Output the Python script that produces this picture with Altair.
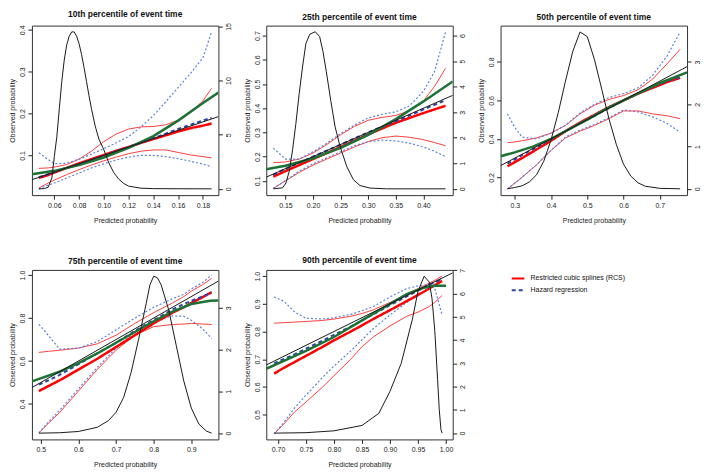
import altair as alt
import pandas as pd

FONT = "Liberation Sans"
TITLES = ["10th percentile of event time", "25th percentile of event time",
          "50th percentile of event time", "75th percentile of event time",
          "90th percentile of event time"]
METHODS = ["Restricted cubic splines (RCS)", "Hazard regression"]

# ---------------- Panel 1: 10th percentile ----------------
XDOM1 = [0.0419, 0.1925]; YDOM1 = [0.005, 0.41]; RDOM1 = [-0.58, 15.08]
XT1 = [0.06, 0.08, 0.10, 0.12, 0.14, 0.16, 0.18]; YT1 = [0.1, 0.2, 0.3, 0.4]; RT1 = [0, 5, 10, 15]
X1 = [0.0475, 0.055, 0.06, 0.07, 0.08, 0.09, 0.10, 0.11, 0.12, 0.13, 0.14, 0.15, 0.16, 0.17, 0.18, 0.187]
RCS1 = [0.046, 0.053, 0.059, 0.07, 0.081, 0.091, 0.101, 0.111, 0.12, 0.13, 0.139, 0.148, 0.157, 0.165, 0.171, 0.176]
RCS1_HI = [0.069, 0.07, 0.072, 0.078, 0.091, 0.11, 0.133, 0.151, 0.163, 0.168, 0.169, 0.173, 0.184, 0.203, 0.23, 0.26]
RCS1_LO = [0.022, 0.034, 0.041, 0.054, 0.066, 0.077, 0.087, 0.096, 0.104, 0.11, 0.113, 0.113, 0.107, 0.101, 0.097, 0.094]
HAZ1 = [0.048, 0.055, 0.06, 0.07, 0.079, 0.089, 0.099, 0.11, 0.12, 0.13, 0.141, 0.152, 0.163, 0.173, 0.183, 0.19]
HAZ1_HI = [0.106, 0.09, 0.08, 0.081, 0.091, 0.103, 0.116, 0.13, 0.145, 0.168, 0.195, 0.228, 0.262, 0.296, 0.333, 0.395]
HAZ1_LO = [0.02, 0.029, 0.034, 0.046, 0.058, 0.07, 0.08, 0.089, 0.096, 0.1, 0.1, 0.097, 0.092, 0.086, 0.079, 0.073]
GX1 = [0.0419, 0.06, 0.08, 0.10, 0.12, 0.14, 0.16, 0.18, 0.1925]
G1 = [0.055, 0.063, 0.077, 0.095, 0.118, 0.146, 0.183, 0.225, 0.25]
DX1 = [0.0475, 0.052, 0.055, 0.058, 0.06, 0.062, 0.064, 0.066, 0.068, 0.07, 0.072, 0.074, 0.076, 0.078,
       0.08, 0.082, 0.084, 0.086, 0.088, 0.09, 0.093, 0.096, 0.10, 0.104, 0.108, 0.112, 0.116, 0.12,
       0.13, 0.14, 0.16, 0.187]
D1 = [0, 0.02, 0.15, 1.0, 3.0, 4.8, 7.4, 9.9, 11.9, 13.3, 14.1, 14.5, 14.5, 14.1, 13.4, 12.4, 11.2, 9.9,
      8.6, 7.4, 5.8, 4.6, 3.6, 2.4, 1.5, 0.9, 0.5, 0.25, 0.06, 0.02, 0.01, 0.0]

# ---------------- Panel 2: 25th percentile ----------------
XDOM2 = [0.1153, 0.453]; YDOM2 = [0.041, 0.741]; RDOM2 = [-0.246, 6.39]
XT2 = [0.15, 0.20, 0.25, 0.30, 0.35, 0.40]; YT2 = [0.1, 0.2, 0.3, 0.4, 0.5, 0.6, 0.7]; RT2 = [0, 1, 2, 3, 4, 5, 6]
X2 = [0.128, 0.15, 0.175, 0.2, 0.225, 0.25, 0.275, 0.3, 0.325, 0.35, 0.375, 0.4, 0.42, 0.44]
RCS2 = [0.117, 0.14, 0.165, 0.19, 0.215, 0.24, 0.266, 0.292, 0.316, 0.34, 0.36, 0.38, 0.395, 0.41]
RCS2_HI = [0.175, 0.178, 0.19, 0.215, 0.25, 0.29, 0.325, 0.35, 0.362, 0.37, 0.39, 0.43, 0.49, 0.565]
RCS2_LO = [0.069, 0.1, 0.135, 0.165, 0.19, 0.215, 0.24, 0.262, 0.278, 0.285, 0.28, 0.27, 0.258, 0.245]
HAZ2 = [0.125, 0.15, 0.175, 0.2, 0.225, 0.25, 0.275, 0.3, 0.323, 0.347, 0.37, 0.395, 0.414, 0.433]
HAZ2_HI = [0.235, 0.19, 0.19, 0.22, 0.255, 0.295, 0.33, 0.36, 0.375, 0.385, 0.41, 0.47, 0.55, 0.715]
HAZ2_LO = [0.069, 0.1, 0.14, 0.17, 0.195, 0.22, 0.245, 0.262, 0.268, 0.265, 0.255, 0.24, 0.222, 0.2]
GX2 = [0.1153, 0.15, 0.2, 0.25, 0.3, 0.35, 0.4, 0.453]
G2 = [0.148, 0.162, 0.193, 0.236, 0.29, 0.355, 0.428, 0.51]
DX2 = [0.128, 0.145, 0.151, 0.157, 0.163, 0.169, 0.175, 0.181, 0.187, 0.194, 0.204, 0.212, 0.218, 0.224,
       0.232, 0.240, 0.249, 0.261, 0.273, 0.285, 0.303, 0.333, 0.44]
D2 = [0, 0.04, 0.23, 0.69, 1.53, 2.56, 3.73, 4.77, 5.68, 6.05, 6.15, 5.96, 5.38, 4.6, 3.47, 2.43, 1.66,
      0.88, 0.36, 0.13, 0.03, 0.0, 0.0]

# ---------------- Panel 3: 50th percentile ----------------
XDOM3 = [0.261, 0.775]; YDOM3 = [0.108, 0.988]; RDOM3 = [-0.15, 3.86]
XT3 = [0.3, 0.4, 0.5, 0.6, 0.7]; YT3 = [0.2, 0.4, 0.6, 0.8]; RT3 = [0, 1, 2, 3]
X3 = [0.28, 0.30, 0.32, 0.36, 0.4, 0.44, 0.48, 0.52, 0.56, 0.6, 0.64, 0.68, 0.72, 0.756]
RCS3 = [0.258, 0.279, 0.3, 0.345, 0.39, 0.44, 0.485, 0.525, 0.565, 0.6, 0.635, 0.665, 0.695, 0.717]
RCS3_HI = [0.38, 0.384, 0.39, 0.405, 0.43, 0.47, 0.53, 0.575, 0.605, 0.625, 0.655, 0.71, 0.79, 0.865]
RCS3_LO = [0.14, 0.17, 0.2, 0.265, 0.34, 0.405, 0.44, 0.47, 0.505, 0.545, 0.545, 0.53, 0.52, 0.505]
HAZ3 = [0.272, 0.293, 0.315, 0.357, 0.398, 0.44, 0.48, 0.52, 0.56, 0.6, 0.635, 0.67, 0.7, 0.72]
HAZ3_HI = [0.53, 0.46, 0.41, 0.4, 0.43, 0.47, 0.535, 0.58, 0.615, 0.635, 0.665, 0.73, 0.83, 0.955]
HAZ3_LO = [0.14, 0.17, 0.2, 0.265, 0.34, 0.41, 0.445, 0.475, 0.51, 0.55, 0.54, 0.515, 0.48, 0.435]
GX3 = [0.261, 0.3, 0.35, 0.4, 0.45, 0.5, 0.55, 0.6, 0.65, 0.7, 0.775]
G3 = [0.31, 0.33, 0.36, 0.4, 0.45, 0.5, 0.553, 0.6, 0.645, 0.69, 0.745]
DX3 = [0.28, 0.3, 0.32, 0.34, 0.36, 0.38, 0.40, 0.42, 0.44, 0.46, 0.48, 0.50, 0.52, 0.54, 0.56, 0.58,
       0.60, 0.62, 0.64, 0.66, 0.70, 0.756]
D3 = [0.0, 0.03, 0.07, 0.16, 0.33, 0.65, 1.15, 1.8, 2.55, 3.25, 3.71, 3.6, 3.05, 2.35, 1.65, 1.05,
      0.58, 0.3, 0.14, 0.06, 0.01, 0.0]

# ---------------- Panel 4: 75th percentile ----------------
XDOM4 = [0.4765, 0.972]; YDOM4 = [0.235, 1.024]; RDOM4 = [-0.15, 3.91]
XT4 = [0.5, 0.6, 0.7, 0.8, 0.9]; YT4 = [0.4, 0.6, 0.8, 1.0]; RT4 = [0, 1, 2, 3]
X4 = [0.495, 0.52, 0.55, 0.6, 0.65, 0.7, 0.75, 0.8, 0.85, 0.88, 0.9, 0.93, 0.954]
RCS4 = [0.46, 0.483, 0.51, 0.56, 0.61, 0.665, 0.72, 0.775, 0.825, 0.85, 0.87, 0.897, 0.92]
RCS4_HI = [0.64, 0.645, 0.65, 0.66, 0.68, 0.72, 0.775, 0.825, 0.87, 0.9, 0.925, 0.955, 0.985]
RCS4_LO = [0.265, 0.31, 0.36, 0.46, 0.56, 0.65, 0.72, 0.76, 0.77, 0.772, 0.775, 0.772, 0.77]
HAZ4 = [0.49, 0.51, 0.535, 0.585, 0.635, 0.685, 0.74, 0.79, 0.84, 0.865, 0.88, 0.9, 0.92]
HAZ4_HI = [0.77, 0.72, 0.655, 0.66, 0.69, 0.745, 0.8, 0.85, 0.89, 0.91, 0.935, 0.965, 1.0]
HAZ4_LO = [0.265, 0.315, 0.37, 0.47, 0.57, 0.66, 0.735, 0.785, 0.81, 0.808, 0.79, 0.75, 0.705]
GX4 = [0.4765, 0.55, 0.6, 0.65, 0.7, 0.75, 0.8, 0.85, 0.9, 0.95, 0.972]
G4 = [0.505, 0.55, 0.59, 0.635, 0.685, 0.735, 0.785, 0.83, 0.865, 0.88, 0.882]
DX4 = [0.495, 0.55, 0.6, 0.65, 0.68, 0.70, 0.72, 0.74, 0.76, 0.78, 0.79, 0.80, 0.81, 0.82, 0.84, 0.86,
       0.88, 0.90, 0.92, 0.94, 0.954]
D4 = [0, 0.01, 0.04, 0.14, 0.3, 0.5, 0.85, 1.45, 2.25, 3.1, 3.55, 3.76, 3.72, 3.55, 2.95, 2.1, 1.25,
      0.6, 0.22, 0.05, 0.0]

# ---------------- Panel 5: 90th percentile ----------------
XDOM5 = [0.679, 1.012]; YDOM5 = [0.41, 1.0225]; RDOM5 = [-0.27, 7.02]
XT5 = [0.70, 0.75, 0.80, 0.85, 0.90, 0.95, 1.00]; YT5 = [0.5, 0.6, 0.7, 0.8, 0.9, 1.0]; RT5 = [0, 1, 2, 3, 4, 5, 6, 7]
X5 = [0.693, 0.71, 0.73, 0.75, 0.78, 0.8, 0.83, 0.85, 0.87, 0.9, 0.93, 0.95, 0.97, 0.98, 0.993]
RCS5 = [0.648, 0.668, 0.69, 0.712, 0.745, 0.768, 0.8, 0.822, 0.845, 0.877, 0.91, 0.932, 0.955, 0.967, 0.983]
RCS5_HI = [0.83, 0.832, 0.834, 0.836, 0.84, 0.845, 0.855, 0.865, 0.878, 0.905, 0.935, 0.955, 0.975, 0.985, 1.0]
RCS5_LO = [0.43, 0.465, 0.51, 0.545, 0.6, 0.64, 0.7, 0.745, 0.78, 0.82, 0.855, 0.87, 0.89, 0.905, 0.93]
HAZ5 = [0.685, 0.7, 0.718, 0.738, 0.767, 0.788, 0.818, 0.84, 0.862, 0.895, 0.927, 0.948, 0.968, 0.978, 0.99]
HAZ5_HI = [0.925, 0.91, 0.87, 0.848, 0.845, 0.85, 0.862, 0.875, 0.89, 0.925, 0.955, 0.965, 0.968, 0.955, 0.86]
HAZ5_LO = [0.43, 0.47, 0.525, 0.57, 0.635, 0.675, 0.73, 0.77, 0.81, 0.86, 0.905, 0.93, 0.955, 0.97, 0.995]
GX5 = [0.679, 0.75, 0.8, 0.85, 0.9, 0.93, 0.96, 0.98, 1.0]
G5 = [0.665, 0.73, 0.78, 0.84, 0.9, 0.935, 0.958, 0.965, 0.965]
DX5 = [0.693, 0.75, 0.8, 0.85, 0.88, 0.9, 0.92, 0.94, 0.95, 0.961, 0.97, 0.975, 0.98, 0.985, 0.988,
       0.991, 0.993]
D5 = [0, 0.02, 0.1, 0.33, 0.85, 1.8, 3.0, 4.9, 6.1, 6.75, 6.5, 5.8, 4.4, 2.3, 1.0, 0.15, 0.0]

PANELS = [
    dict(title=TITLES[0], x=X1, rcs=RCS1, rhi=RCS1_HI, rlo=RCS1_LO, haz=HAZ1, hhi=HAZ1_HI, hlo=HAZ1_LO,
         gx=GX1, g=G1, dx=DX1, d=D1, xdom=XDOM1, ydom=YDOM1, rdom=RDOM1, xt=XT1, yt=YT1, rt=RT1, xf=".2f"),
    dict(title=TITLES[1], x=X2, rcs=RCS2, rhi=RCS2_HI, rlo=RCS2_LO, haz=HAZ2, hhi=HAZ2_HI, hlo=HAZ2_LO,
         gx=GX2, g=G2, dx=DX2, d=D2, xdom=XDOM2, ydom=YDOM2, rdom=RDOM2, xt=XT2, yt=YT2, rt=RT2, xf=".2f"),
    dict(title=TITLES[2], x=X3, rcs=RCS3, rhi=RCS3_HI, rlo=RCS3_LO, haz=HAZ3, hhi=HAZ3_HI, hlo=HAZ3_LO,
         gx=GX3, g=G3, dx=DX3, d=D3, xdom=XDOM3, ydom=YDOM3, rdom=RDOM3, xt=XT3, yt=YT3, rt=RT3, xf=".1f"),
    dict(title=TITLES[3], x=X4, rcs=RCS4, rhi=RCS4_HI, rlo=RCS4_LO, haz=HAZ4, hhi=HAZ4_HI, hlo=HAZ4_LO,
         gx=GX4, g=G4, dx=DX4, d=D4, xdom=XDOM4, ydom=YDOM4, rdom=RDOM4, xt=XT4, yt=YT4, rt=RT4, xf=".1f"),
    dict(title=TITLES[4], x=X5, rcs=RCS5, rhi=RCS5_HI, rlo=RCS5_LO, haz=HAZ5, hhi=HAZ5_HI, hlo=HAZ5_LO,
         gx=GX5, g=G5, dx=DX5, d=D5, xdom=XDOM5, ydom=YDOM5, rdom=RDOM5, xt=XT5, yt=YT5, rt=RT5, xf=".2f"),
]

W, H = 187, 170
BLACK = "#1a1a1a"
RED = "#ff0000"
RED_CI = "#ff4040"
BLUE = "#2b44a8"
BLUE_CI = "#5f80e0"
GREEN = "#1d7236"

LEG = alt.Legend(title=None, orient="none", legendX=480, legendY=246, symbolType="stroke",
                 symbolStrokeWidth=2, symbolSize=160, labelFont=FONT, labelFontSize=7,
                 labelColor="#111", labelOffset=5, rowPadding=-4, padding=0)
COLOR = alt.Color("method:N", scale=alt.Scale(domain=METHODS, range=[RED, BLUE]), legend=LEG)
DASH = alt.StrokeDash("method:N", scale=alt.Scale(domain=METHODS, range=[[1, 0], [4, 3]]), legend=LEG)


def frame(xs, ys, method=None):
    d = pd.DataFrame({"x": xs, "y": ys})
    if method is not None:
        d["method"] = method
    return d


def panel(p):
    xsc = alt.Scale(domain=p["xdom"], nice=False, zero=False)
    ysc = alt.Scale(domain=p["ydom"], nice=False, zero=False)
    rsc = alt.Scale(domain=p["rdom"], nice=False, zero=False)
    xax = alt.Axis(title="Predicted probability", values=p["xt"], format=p["xf"])
    yax = alt.Axis(title="Observed probability", values=p["yt"], format=".1f", orient="left",
                   labelAngle=270, labelAlign="center", labelBaseline="bottom")
    X = alt.X("x:Q", scale=xsc, axis=xax)
    Y = alt.Y("y:Q", scale=ysc, axis=yax)

    def plain(xs, ys, color, width, dash=None):
        kw = dict(color=color, strokeWidth=width, clip=True)
        if dash is not None:
            kw["strokeDash"] = dash
        return alt.Chart(frame(xs, ys)).mark_line(**kw).encode(x=X, y=Y)

    rlo = plain(p["x"], p["rlo"], RED_CI, 1)
    rhi = plain(p["x"], p["rhi"], RED_CI, 1)
    hlo = plain(p["x"], p["hlo"], BLUE_CI, 1.2, [2, 2])
    hhi = plain(p["x"], p["hhi"], BLUE_CI, 1.2, [2, 2])
    rcs = alt.Chart(frame(p["x"], p["rcs"], METHODS[0])).mark_line(strokeWidth=2.5, clip=True).encode(
        x=X, y=Y, color=COLOR, strokeDash=DASH)
    haz = alt.Chart(frame(p["x"], p["haz"], METHODS[1])).mark_line(strokeWidth=2, clip=True).encode(
        x=X, y=Y, color=COLOR, strokeDash=DASH)
    green = plain(p["gx"], p["g"], GREEN, 2.5)
    ident = plain(p["xdom"], p["xdom"], BLACK, 1)
    lines = alt.layer(rlo, rhi, hlo, hhi, rcs, haz, green, ident)

    dens = alt.Chart(frame(p["dx"], p["d"])).mark_line(color=BLACK, strokeWidth=1, clip=True).encode(
        x=X,
        y=alt.Y("y:Q", scale=rsc,
                axis=alt.Axis(title=None, values=p["rt"], format="d", orient="right",
                              labelAngle=270, labelAlign="center", labelBaseline="top")))
    return alt.layer(lines, dens).resolve_scale(y="independent").properties(
        width=W, height=H, title=p["title"])


row1 = alt.hconcat(*[panel(p) for p in PANELS[:3]], spacing=10)
row2 = alt.hconcat(*[panel(p) for p in PANELS[3:]], spacing=10)
chart = alt.vconcat(row1, row2, spacing=31).properties(padding=0).configure_view(
    stroke="#333", strokeWidth=1
).configure_axis(
    labelFont=FONT, titleFont=FONT, labelFontSize=7, titleFontSize=7, titleFontWeight="normal",
    tickSize=4, tickColor="#222", labelColor="#222", titleColor="#222", domain=False, grid=False,
    labelPadding=2, labelFlush=False
).configure_axisX(titlePadding=8).configure_axisLeft(titlePadding=3).configure_title(
    font=FONT, fontSize=8.5, fontWeight="bold", anchor="middle", offset=4, color="#111"
)

chart.save("out.html", embed_options={"renderer": "svg", "actions": False})
